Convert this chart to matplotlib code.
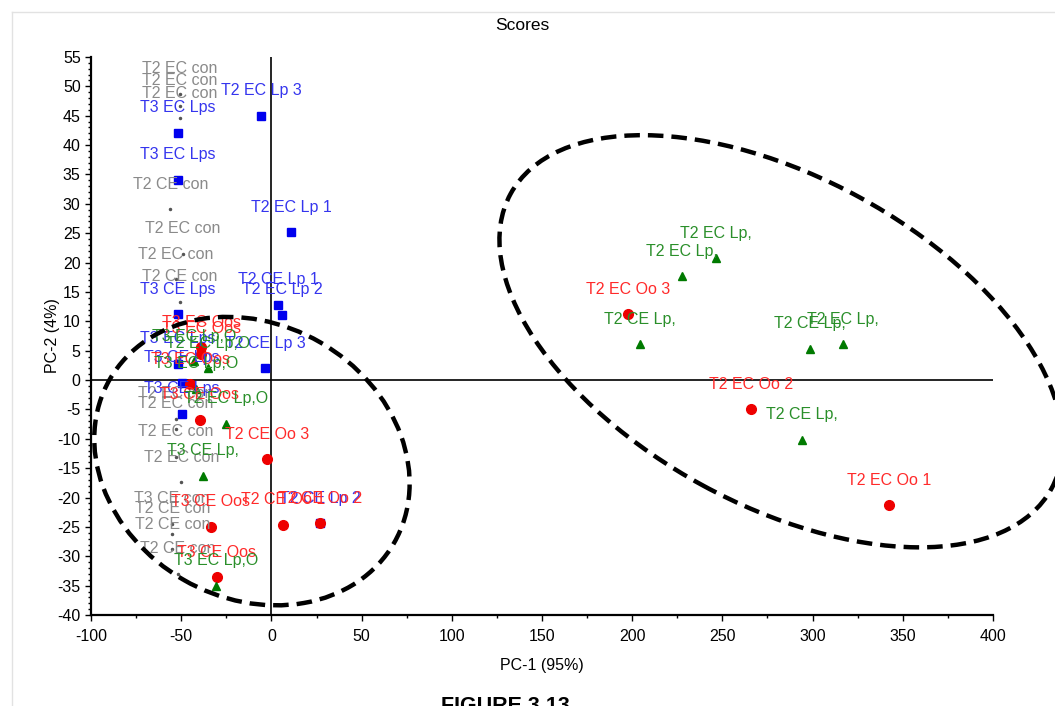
import matplotlib
matplotlib.use('Agg')
import matplotlib.pyplot as plt
from matplotlib.patches import Ellipse
from matplotlib.lines import Line2D
from matplotlib.ticker import MultipleLocator
from matplotlib.transforms import ScaledTranslation

plt.rcParams['font.family'] = ['Liberation Sans', 'DejaVu Sans']
plt.rcParams['axes.unicode_minus'] = False

# PCA scores, one list per sample group
con_x = [-50.6, -50.6, -50.6, -56.0, -49.0, -53.0, -50.6, -53.0, -53.0, -53.0, -50.0, -55.0, -55.0, -55.0, -52.0]
con_y = [48.7, 46.7, 44.6, 29.1, 21.5, 17.2, 13.3, -6.6, -8.3, -13.1, -17.4, -24.5, -26.2, -28.8, -33.0]
con_lab = ['T2 EC con', 'T2 EC con', 'T2 EC con', 'T2 CE con', 'T2 EC con', 'T2 EC con', 'T2 CE con',
           'T2 EC con', 'T2 EC con', 'T2 EC con', 'T2 EC con', 'T3 CE con', 'T2 CE con', 'T2 CE con',
           'T2 CE con']

lp_x = [-5.8, -51.7, -51.7, 10.9, 3.7, 5.9, -51.7, -3.5, -52.0, -49.7, -49.7, 26.9]
lp_y = [45.0, 42.1, 34.1, 25.2, 12.8, 11.1, 11.2, 2.0, 2.8, -0.5, -5.7, -24.4]
lp_lab = ['T2 EC Lp 3', 'T3 EC Lps', 'T3 EC Lps', 'T2 EC Lp 1', 'T2 CE Lp 1', 'T2 EC Lp 2', 'T3 CE Lps',
          'T2 CE Lp 3', 'T3 EC Lps', 'T3 CE Lps', 'T3 CE Lps', 'T2 CE Lp 2']

oo_x = [197.8, 265.7, 342.3, -2.6, -39.6, -33.6, 6.3, 26.9, -30.3, -39.0, -39.0, -45.0]
oo_y = [11.2, -5.0, -21.3, -13.5, -6.8, -25.0, -24.6, -24.4, -33.6, 5.6, 4.5, -0.7]
oo_lab = ['T2 EC Oo 3', 'T2 EC Oo 2', 'T2 EC Oo 1', 'T2 CE Oo 3', 'T3 CE Oos', 'T3 CE Oos', 'T2 CE Oo 1',
          'T2 CE Oo 2', 'T3 CE Oos', 'T3 EC Oos', 'T3 EC Oos', 'T3 EC Oos']

lpoo_x = [227.4, 246.5, 204.3, 298.6, 317.0, 294.0, -25.2, -37.7, -30.7, -43.0, -42.0, -35.0]
lpoo_y = [17.7, 20.7, 6.1, 5.3, 6.1, -10.2, -7.4, -16.3, -35.0, 3.2, -1.5, 2.0]
lpoo_lab = ['T2 EC Lp,', 'T2 EC Lp,', 'T2 CE Lp,', 'T2 CE Lp,', 'T2 EC Lp,', 'T2 CE Lp,', 'T2 EC Lp,O',
            'T3 CE Lp,', 'T3 EC Lp,O', 'T3 EC Lp,O', 'T3 EC Lp,O', 'T2 EC Lp,O']

fig = plt.figure(figsize=(10.55, 7.06), dpi=100)
ax = fig.add_axes([0.0863, 0.1289, 0.8549, 0.7904])

groups = [
    (con_x, con_y, con_lab, '.', 3, '#555555', '#8a8a8a'),
    (lp_x, lp_y, lp_lab, 's', 6, '#0000ee', '#3535ee'),
    (oo_x, oo_y, oo_lab, 'o', 7, '#ee0000', '#ff2a2a'),
    (lpoo_x, lpoo_y, lpoo_lab, '^', 6, '#007a00', '#2a8f2a'),
]
for xs, ys, labs, mk, ms, c, tc in groups:
    ax.plot(xs, ys, linestyle='none', marker=mk, markersize=ms, color=c, zorder=3)
    for x, y, t in zip(xs, ys, labs):
        ax.annotate(t, (x, y), xytext=(0, 18), textcoords='offset points',
                    ha='center', va='center', fontsize=11.5, color=tc, zorder=4)

ax.axhline(0, color='black', lw=1.2, zorder=2)
ax.axvline(0, color='black', lw=1.2, zorder=2)

ax.set_xlim(-100, 400)
ax.set_ylim(-40, 55)
ax.xaxis.set_major_locator(MultipleLocator(50))
ax.xaxis.set_minor_locator(MultipleLocator(25))
ax.yaxis.set_major_locator(MultipleLocator(5))
ax.yaxis.set_minor_locator(MultipleLocator(1))
ax.tick_params(which='major', direction='out', length=4, width=1, labelsize=11.5)
ax.tick_params(axis='x', which='major', pad=6)
ax.tick_params(which='minor', direction='out', length=2, width=1)
for s in ['top', 'right']:
    ax.spines[s].set_visible(False)
for s in ['left', 'bottom']:
    ax.spines[s].set_linewidth(1.6)

ax.set_xlabel('PC-1 (95%)', fontsize=11.5, labelpad=10)
ax.set_ylabel('PC-2 (4%)', fontsize=11.5, labelpad=-2)
fig.text(522 / 1055, 1 - 25 / 706, 'Scores', ha='center', va='center', fontsize=12.5)

# dashed rings around the two clusters (sizes in inches, centred on data coords)
rings = [(-10.8, -13.8, 3.28, 2.74, -30), (282.5, 6.6, 6.16, 3.28, -28.6)]
for cx, cy, w, h, ang in rings:
    tr = fig.dpi_scale_trans + ScaledTranslation(cx, cy, ax.transData)
    ax.add_patch(Ellipse((0, 0), w, h, angle=ang, transform=tr, fill=False,
                         edgecolor='black', lw=3.2, linestyle=(0, (3.5, 1.8)),
                         clip_on=False, zorder=5))

# page frame and caption
fig.add_artist(Line2D([12 / 1055, 12 / 1055], [0, 1 - 12 / 706], transform=fig.transFigure,
                      color='#e2e2e2', lw=1))
fig.add_artist(Line2D([12 / 1055, 1], [1 - 12 / 706, 1 - 12 / 706], transform=fig.transFigure,
                      color='#e2e2e2', lw=1))
fig.text(505 / 1055, 1 - 696 / 706, 'FIGURE 3.13', ha='center', va='top', fontsize=15.5,
         fontweight='bold')

fig.savefig('out.png', dpi=100)
